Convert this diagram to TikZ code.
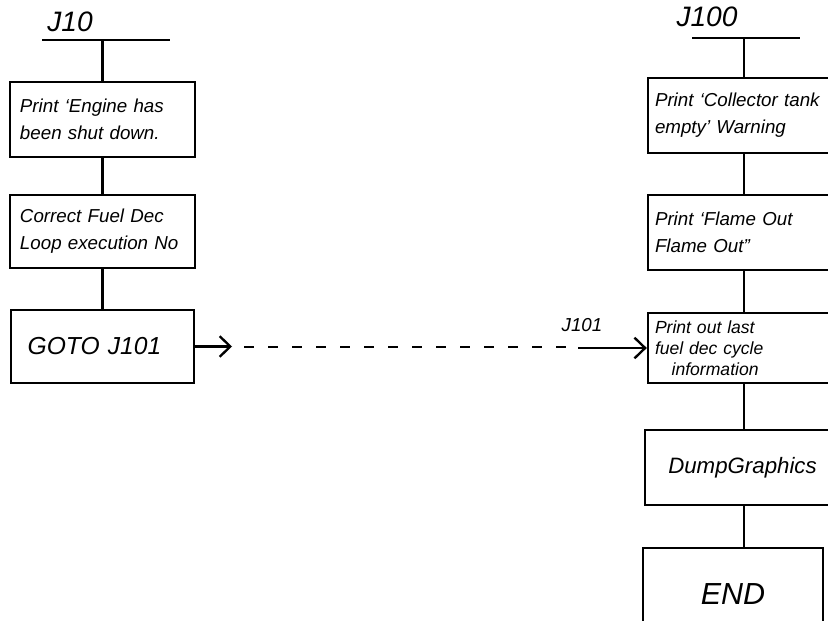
\documentclass[tikz,border=0pt]{standalone}
\usepackage{fontspec}
\setmainfont{Liberation Sans}
\usetikzlibrary{arrows.meta}
\begin{document}
\begin{tikzpicture}[x=0.03cm,y=-0.03cm,
  wire/.style={line width=2pt},
  tip/.style={-{Straight Barb[length=0.32cm,width=0.62cm,line width=2pt]}},
  jump/.style={line width=2pt,dash pattern=on 0.3cm off 0.42cm},
  label/.style={inner sep=0pt,font=\fontsize{24}{26}\selectfont\itshape},
  box/.style={draw,line width=2pt,inner ysep=0pt,align=left,
    font=\fontsize{16}{23}\selectfont\itshape},
  lbox/.style={box,inner xsep=0.3cm,text width=4.95cm},
  rbox/.style={box,inner xsep=0.21cm,text width=5.34cm,minimum height=2.25cm}]
\useasboundingbox (0,0) rectangle (828,621);
\clip (0,0) rectangle (828,621);

% left-hand branch: J10
\node[label] (j10) at (70,22) {J10};
\coordinate (j10l) at (42,40);
\coordinate (j10r) at (170,40);
\coordinate (j10m) at (102.5,40);
\node[lbox,minimum height=2.25cm] (b1) at (102.5,119.5)
  {Print ‘Engine has\\been shut down.};
\node[lbox,minimum height=2.19cm] (b2) at (102.5,231.5)
  {Correct Fuel Dec\\Loop execution No};
\node[box,inner xsep=0.5cm,text width=4.49cm,minimum height=2.19cm,
  font=\fontsize{21}{24}\selectfont\itshape] (b3) at (102.5,346.5) {GOTO J101};

\draw[wire] (j10l) -- (j10r);
\draw[wire] (j10m) -- (b1.north);
\draw[wire] (b1.south) -- (b2.north);
\draw[wire] (b2.south) -- (b3.north);

% right-hand branch: J100
\node[label] (j100) at (707,17) {J100};
\coordinate (j100l) at (692,38);
\coordinate (j100r) at (800,38);
\coordinate (j100m) at (744,38);
\node[rbox] (r1) at (744,115.5) {Print ‘Collector tank\\empty’ Warning};
\node[rbox] (r2) at (744,232.5) {Print ‘Flame Out\\Flame Out”};
\node[rbox,minimum height=2.1cm,font=\fontsize{15}{18}\selectfont\itshape] (r3) at (744,348)
  {Print out last\\fuel dec cycle\\\hspace*{0.5cm}information};
\node[box,align=center,minimum width=5.85cm,minimum height=2.25cm,
  font=\fontsize{19}{21}\selectfont\itshape] (r4) at (742.5,467.5) {DumpGraphics};
\node[box,align=center,minimum width=5.4cm,minimum height=2.76cm,
  font=\fontsize{26}{28}\selectfont\itshape] (r5) at (733,594) {END};
\node[label,font=\fontsize{16}{18}\selectfont\itshape] (j101) at (582,325) {J101};

\draw[wire] (j100l) -- (j100r);
\draw[wire] (j100m) -- (r1.north);
\draw[wire] (r1.south) -- (r2.north);
\draw[wire] (r2.south) -- (r3.north);
\draw[wire] (r3.south) -- (r3.south |- r4.north);
\draw[wire] (r3.south |- r4.south) -- (r3.south |- r5.north);

% jump from GOTO J101 to entry point J101
\coordinate (g1) at (232,346.5);
\coordinate (d1) at (244,347);
\coordinate (d2) at (572,347);
\coordinate (s1) at (578,348);
\draw[wire,tip] (b3.east) -- (g1);
\draw[jump] (d1) -- (d2);
\draw[wire,tip] (s1) -- (r3.west);
\end{tikzpicture}
\end{document}
